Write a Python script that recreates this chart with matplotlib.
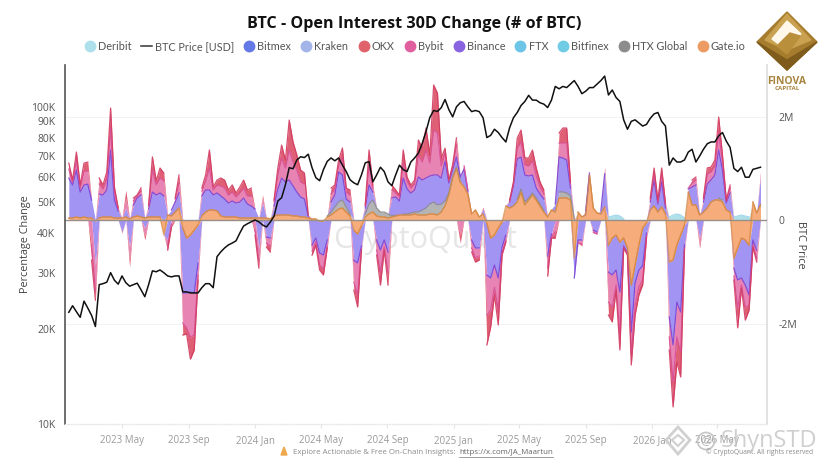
import numpy as np
import pandas as pd
import matplotlib
matplotlib.use('Agg')
import matplotlib.pyplot as plt
from matplotlib.lines import Line2D
from matplotlib.patches import Polygon, Circle

plt.rcParams['font.family'] = ['Open Sans', 'DejaVu Sans']

# weekly samples
weeks = pd.date_range('2023-01-23', periods=183, freq='7D')

# BTC price in thousands of USD
price = [22.5, 23.6, 22.6, 21.7, 24.4, 23.2, 22, 20.3, 27.5, 27.7,
         28, 30, 28.4, 27.6, 29.3, 27.9, 27.2, 27.5, 27.8, 26.5,
         25.2, 27.5, 30.4, 30.2, 30.6, 30, 29.3, 29.1, 29.3, 29.3,
         26.1, 26.1, 25.9, 25.9, 25.9, 26.9, 27.7, 27.7, 26.9, 33.7,
         34.9, 35.9, 36.7, 37.2, 37.8, 40, 42.1, 42.8, 43.4, 44,
         43.4, 42.4, 41.8, 43.3, 45.2, 50.5, 51.7, 56.8, 64.3, 63.8,
         68, 69.6, 69.2, 70.9, 64.3, 59.8, 58.5, 63.4, 67.3, 69,
         67.6, 69, 65.5, 62.5, 58.9, 57.6, 56.8, 61, 66.6, 67.2,
         58, 61, 64.5, 62.5, 58, 56.4, 61, 65.5, 63.4, 62.5,
         67, 69, 71.5, 76.7, 83.7, 92.6, 97.4, 96.7, 99.4, 105.5,
         98, 93, 100, 103, 104, 100, 96.6, 97.4, 96.6, 92.4,
         80, 81.3, 85, 83, 80, 77.5, 86, 92.4, 96, 101,
         104, 108.7, 105, 105, 103, 102, 99.5, 105, 116, 114,
         116, 115, 118, 121, 116, 110, 112, 115, 115, 118,
         121, 125, 109, 113, 107, 104, 91, 85, 90, 91,
         89, 87, 88, 92, 95, 96, 90, 87, 65.5, 69,
         67, 67, 68, 72, 73.5, 67, 70, 73.5, 76.5, 77.5,
         77.5, 81, 83, 78, 74.5, 64, 62.5, 64.5, 60, 60,
         63.5, 64, 64.5]

# 30D open interest change per exchange, in units of 2K BTC
gate = [19, 19, 29, 19, 29, 19, 19, -10, 19, 29,
        29, 29, 19, 19, 19, 29, 10, 29, 39, 29,
        19, 29, 29, 29, 29, -145, 48, 39, 77, 116,
        -77, -174, -145, -97, -48, 39, 77, 97, 97, 87,
        39, 29, 29, 29, 29, 19, 19, 19, 19, 19,
        19, 19, 19, 10, 39, 48, 48, 48, 48, 39,
        39, 29, 29, 19, 10, 10, -10, -10, 29, 48,
        77, 106, 116, 77, 39, -97, -135, -58, 29, 58,
        77, 39, 29, 29, 19, 29, 39, 48, 48, 48,
        48, 58, 48, 48, 48, 58, 58, 48, 77, 135,
        242, 406, 502, 367, 319, 251, 58, 97, 29, 58,
        -29, -174, -145, -77, -19, 135, 116, 135, 174, 270,
        145, 193, 242, 193, 135, 77, 29, 97, 77, 213,
        213, 213, 193, -367, 77, 29, 48, 435, 116, 68,
        58, 126, -242, -174, -145, -213, -174, -270, -628, -435,
        -242, -77, -29, 97, 135, 77, 126, 58, -406, -386,
        -242, -145, -48, 270, 145, 145, 48, 77, 116, 174,
        193, 193, 174, 97, 77, -367, -270, -174, -193, -242,
        174, 68, 145]
htx = [0, 0, 0, 0, 0, 0, 0, 0, 0, 0,
       0, 0, 0, 0, 0, 0, 0, 0, 0, 0,
       0, 0, 0, 0, 0, 0, 0, 0, 0, 0,
       0, 0, 0, 0, 0, 0, 0, 0, 0, 0,
       0, 0, 0, 0, 0, 0, 0, 0, 0, 0,
       0, 0, 0, 0, 0, 0, 0, 0, 0, 0,
       0, 0, 0, 0, 0, 0, 0, 0, 10, 29,
       48, 68, 77, 48, 19, 0, 0, 0, 29, 97,
       116, 77, 48, 48, 39, 10, 10, 0, 10, 10,
       19, 19, 29, 48, 68, 97, 116, 97, 77, 48,
       19, 10, 10, 10, 0, 0, 0, 0, 0, 0,
       0, 0, 0, 0, 0, 10, 0, 0, 29, 29,
       29, 19, 19, 19, 19, 10, 0, 10, 0, 58,
       58, 48, 39, 10, 0, 0, 0, 0, 0, 0,
       0, 0, 0, 0, 0, 0, 0, 0, 0, 0,
       0, 0, 0, 0, 0, 0, 0, 0, 0, 0,
       0, 0, 0, 0, 0, 0, 0, 0, 0, 0,
       0, 19, 19, 0, 0, 0, 0, 0, 0, 0,
       0, 0, 0]
binance = [386, 319, 454, 251, 309, 328, 174, -425, 232, 213,
           261, 647, 174, 68, -116, 87, -261, 116, 174, 213,
           -77, 77, 242, 213, 232, 232, -193, 58, 97, 145,
           -628, -531, -551, -609, -367, 193, 213, 193, 145, 174,
           193, 174, 135, 155, 135, 155, 193, 135, 116, 87,
           -270, 145, -164, -174, 97, 251, 357, 319, 338, 290,
           232, 193, 174, 19, -242, -174, -309, -328, -193, 97,
           116, 290, 242, 77, 116, -290, -280, -193, 58, 184,
           77, -193, -290, -193, -309, 174, 174, 135, 348, 242,
           193, 213, 338, 290, 290, 270, 261, 290, 251, 386,
           97, 68, 97, 39, 174, 29, -193, -270, -270, 48,
           -502, -386, -290, -483, -242, -145, 58, 193, 386, 309,
           261, 213, 174, 97, 97, 116, -348, -135, 77, 338,
           328, 319, 77, -193, -193, -193, 39, 19, -97, -116,
           29, 319, -261, -357, -338, -483, -77, -48, -454, -174,
           -242, -367, -97, 77, 251, 77, 242, 58, -531, -821,
           -551, -744, -193, 29, 174, 193, -174, 97, 232, 213,
           242, 464, 290, 68, 184, -97, -309, -386, -435, -483,
           -193, -290, 270]
bybit = [87, 29, 97, 39, 135, 126, -242, -242, 97, 58,
         106, 213, 68, 19, 0, 97, -116, 39, 19, 39,
         -77, 29, 213, 97, 145, 145, -58, -39, 29, 97,
         -290, -338, -435, -406, -116, 48, 87, 213, 48, 77,
         97, 106, 77, 87, 58, 87, 97, 77, 97, -97,
         -116, 48, -58, -77, 39, 135, 193, 135, 290, 232,
         213, 145, 145, 0, -58, -39, -116, -135, -58, 77,
         58, 68, 164, 68, 68, -213, -309, -29, 19, 193,
         39, -97, -213, -68, -193, 77, 39, 39, 145, 77,
         48, 58, 213, 174, 270, 126, 435, 406, 116, 77,
         19, 29, 116, -145, 29, 10, -77, -97, -77, 10,
         -386, -309, -213, -309, -58, -48, 10, 29, 106, 145,
         97, 97, 135, 116, 68, 48, -116, -29, -116, 135,
         145, 164, 39, 0, -29, -39, 10, 0, -19, -19,
         0, 39, -290, -309, -145, -415, -10, -10, -213, -213,
         -164, -135, -29, 19, 58, 19, 77, 29, -193, -357,
         -338, -386, -29, 10, 39, 48, -58, 29, 97, 77,
         87, 164, 87, 19, 48, -77, -270, -68, -213, -97,
         -48, -77, 29]
okx = [58, 19, 77, 29, 77, 87, -145, -97, 58, 39,
       68, 193, 58, 10, -10, 77, -77, 29, 10, 29,
       -39, 10, 126, 39, 97, 77, -39, -29, 10, 77,
       -116, -58, -213, -145, -48, 29, 58, 174, 29, 48,
       77, 77, 48, 68, 39, 58, 77, 58, 77, -48,
       -77, 29, -39, -58, 19, 68, 126, 77, 290, 193,
       145, 116, 106, 10, -39, -29, -48, -58, -19, 58,
       39, 48, 97, 39, 48, -77, -116, -10, 10, 145,
       29, -48, -126, -29, -126, 48, 29, 19, 126, 39,
       29, 39, 145, 135, 213, 77, 435, 386, 77, 48,
       10, 19, 68, -77, 10, 0, -39, -39, -39, 10,
       -290, -164, -77, -145, -19, -19, 10, 10, 97, 116,
       68, 77, 106, 77, 48, 39, -77, -10, -58, 97,
       145, 145, 19, 0, 0, -19, 0, 0, -10, 0,
       0, 29, -126, -145, -48, -145, -10, -10, -106, -97,
       -77, -48, -19, 19, 58, 19, 58, 19, -126, -242,
       -242, -242, -19, 0, 29, 29, -39, 10, 58, 48,
       58, 155, 58, 10, 29, -39, -193, -29, -126, -48,
       -19, -39, 19]
deribit = [0, 0, 0, 0, 0, 0, 0, 0, 0, 0,
           0, 0, 0, 0, 0, 0, 0, 0, 0, 0,
           0, 0, 0, 0, 0, 0, 0, 0, 0, 0,
           0, 0, 0, 0, 0, 0, 0, 0, 0, 0,
           0, 0, 0, 0, 0, 0, 0, 0, 0, 0,
           0, 0, 0, 0, 0, 0, 0, 0, 0, 0,
           0, 0, 0, 0, 0, 0, 0, 0, 0, 0,
           0, 0, 0, 0, 0, 0, 0, 0, 0, 0,
           0, 0, 0, 0, 0, 0, 0, 0, 0, 0,
           0, 0, 0, 0, 0, 0, 0, 0, 0, 0,
           0, 0, 0, 0, 0, 0, 0, 0, 0, 0,
           0, 0, 0, 0, 0, 0, 0, 0, 0, 0,
           0, 0, 0, 0, 0, 0, 0, 0, 0, 0,
           0, 0, 0, 0, 0, 0, 0, 0, 0, 0,
           0, 0, 29, 39, 48, 39, 10, 0, 0, 0,
           0, 0, 0, 0, 0, 0, 0, 0, 29, 48,
           58, 48, 19, 0, 0, 0, 0, 0, 0, 0,
           0, 0, 0, 0, 0, 29, 39, 48, 39, 29,
           0, 0, 0]

exchanges = [gate, htx, binance, bybit, okx, deribit]
fill_colors = ['#f6ad7b', '#b4b4b4', '#a294f2', '#e884b4', '#df5f74', '#aee0ec']
edge_colors = ['#d98a45', '#8c8c8c', '#7a45d6', '#d9509a', '#d23c62', '#9ad4e6']

left_ticks = [10, 20, 30, 40, 50, 60, 70, 80, 90, 100]
left_labels = ['10K', '20K', '30K', '40K', '50K', '60K', '70K', '80K', '90K', '100K']
month_ticks = ['2023-05-01', '2023-09-01', '2024-01-01', '2024-05-01', '2024-09-01',
               '2025-01-01', '2025-05-01', '2025-09-01', '2026-01-01', '2026-05-01']
month_labels = ['2023 May', '2023 Sep', '2024 Jan', '2024 May', '2024 Sep',
                '2025 Jan', '2025 May', '2025 Sep', '2026 Jan', '2026 May']

legend_items = [('Deribit', '#aee0ec'), ('BTC Price [USD]', None), ('Bitmex', '#6478e6'),
                ('Kraken', '#a3b4e8'), ('OKX', '#e0636c'), ('Bybit', '#e0609f'),
                ('Binance', '#8a63e0'), ('FTX', '#6cc5e6'), ('Bitfinex', '#70cbe4'),
                ('HTX Global', '#8c8c8c'), ('Gate.io', '#ec9c62')]

W, H = 828, 466
fig = plt.figure(figsize=(W / 100, H / 100), dpi=100)
ax = fig.add_axes([65 / W, 1 - 424 / H, 702 / W, 359 / H])
ax2 = ax.twinx()
ax.set_zorder(ax2.get_zorder() + 1)
ax.patch.set_visible(False)

# stacked areas, positive values go up and negative ones go down
values = np.array(exchanges, dtype=float) * 2
for part in (np.clip(values, 0, None), np.clip(values, None, 0)):
    base = np.zeros(len(weeks))
    for row, fc, ec in zip(part, fill_colors, edge_colors):
        top = base + row
        ax2.fill_between(weeks, base, top, color=fc, lw=0, zorder=2)
        shown = np.where(row != 0, top, np.nan)
        ax2.plot(weeks, shown, color=ec, lw=0.9, zorder=3, alpha=0.9)
        base = top
ax2.plot(weeks, values[0], color=edge_colors[0], lw=1.0, alpha=0.7, zorder=4)
ax2.axhline(0, color='#9a8f88', lw=1.0, zorder=4)

ax.plot(weeks, price, color='#111111', lw=1.1, zorder=5)

ax.set_yscale('log')
ax.set_ylim(10, 135.5)
ax.set_yticks(left_ticks)
ax.set_yticklabels(left_labels)
ax.minorticks_off()
ax.tick_params(axis='y', length=0, labelsize=7.5, labelcolor='#555555', pad=7)
ax.set_ylabel('Percentage Change', fontsize=7.8, color='#444444')
ax.yaxis.set_label_coords(-0.048, 0.5)

ax2.set_ylim(-3942, 2996)
ax2.set_yticks([-2000, 0, 2000])
ax2.set_yticklabels(['-2M', '0', '2M'])
ax2.tick_params(axis='y', length=0, labelsize=7.5, labelcolor='#555555', pad=8)
ax2.set_ylabel('BTC Price', fontsize=7.8, color='#444444', rotation=270)
ax2.yaxis.set_label_coords(1.056, 0.5)
for level in (-2000, 2000):
    ax2.axhline(level, color='#f2f2f2', lw=0.7, zorder=1)

ax.set_xlim(weeks[0] - pd.Timedelta(days=7), weeks[0] + pd.Timedelta(days=1286))
ax.set_xticks(pd.to_datetime(month_ticks))
ax.set_xticklabels(month_labels)
ax.tick_params(axis='x', length=3, color='#e4e4e4', labelsize=7, labelcolor='#9a9a9a', pad=5)
ax2.tick_params(axis='x', length=0)

for a in (ax, ax2):
    a.spines['top'].set_visible(False)
    a.spines['left'].set_visible(False)
    a.spines['right'].set_visible(False)
    a.spines['bottom'].set_color('#e8e8e8')
    a.spines['bottom'].set_linestyle(':')
ax.spines['left'].set_visible(True)
ax.spines['left'].set_color('#555555')
ax.spines['left'].set_linewidth(1.2)
ax2.spines['right'].set_visible(True)
ax2.spines['right'].set_color('#dddddd')
ax2.spines['right'].set_linewidth(1.2)

fig.text(414 / W, 1 - 24 / H, 'BTC - Open Interest 30D Change (# of BTC)', ha='center', va='center',
         fontsize=11.6, fontweight='bold', color='#111111')
fig.text(425 / W, 1 - 240 / H, 'CryptoQuant', fontsize=22, color='#e6e6e6', ha='center', va='center', zorder=-1)

handles = []
for name, color in legend_items:
    if color is None:
        handles.append(Line2D([], [], color='#333333', lw=1.1, label=name))
    else:
        handles.append(Line2D([], [], color=color, marker='o', ms=7.5, lw=0, label=name))
fig.legend(handles=handles, loc='center', bbox_to_anchor=(415 / W, 1 - 46.5 / H), ncol=11, frameon=False,
           prop={'family': 'Lato', 'size': 7.8}, labelcolor='#555555',
           columnspacing=0.9, handletextpad=0.25, handlelength=1.0)

# overlay in picture pixels for the logo and the footer
deco = fig.add_axes([0, 0, 1, 1], zorder=10)
deco.set_xlim(0, W)
deco.set_ylim(H, 0)
deco.axis('off')

# gold logo
deco.add_patch(Polygon([(787, 12), (817, 42), (787, 70), (757, 42)], color='#a67c2e'))
deco.add_patch(Polygon([(787, 14), (811, 40), (787, 50), (765, 40)], color='#c9a150'))
deco.add_patch(Polygon([(787, 21), (801, 34), (780, 45), (772, 39)], color='#fff8ea'))
deco.add_patch(Polygon([(790, 33), (800, 36), (787, 54), (777, 46)], color='#b98f3c'))
deco.add_patch(Polygon([(757, 42), (787, 70), (817, 42), (787, 60)], color='#7f5c1c'))
deco.text(787, 81, 'FINOVA', fontsize=7.5, fontweight='bold', color='#a8853f', ha='center', va='center')
deco.text(787, 88, 'CAPITAL', fontsize=4.5, fontweight='bold', color='#a8853f', ha='center', va='center')

# footer
deco.add_patch(Polygon([(281, 455), (284, 447), (287, 455)], color='#eda94d'))
deco.text(293, 452, 'Explore Actionable & Free On-Chain Insights: ', fontsize=5.7, color='#8a8a8a', va='center')
deco.text(459, 452, 'https://x.com/JA_Maartun', fontsize=5.7, color='#666666', va='center')
deco.plot([459, 553], [456.5, 456.5], color='#777777', lw=0.5)
deco.text(706, 452, '© CryptoQuant. All rights reserved', fontsize=4.8, color='#8a8a8a', va='center')

# reposter watermark
deco.add_patch(Polygon([(678, 427), (690, 440), (678, 454), (666, 440)], fill=False, ec='#d0d0d0', lw=2))
deco.add_patch(Polygon([(678, 435), (684, 440), (678, 446), (672, 440)], fill=False, ec='#d0d0d0', lw=1.5))
deco.add_patch(Circle((706, 441), 8.5, fill=False, ec='#c8c8c8', lw=1.3))
deco.text(706, 441, '@', fontsize=9, color='#b8b8b8', ha='center', va='center')
deco.text(721, 441, 'ShynSTD', fontsize=17, color='#c4c4c4', va='center', alpha=0.8)

fig.savefig('out.png', dpi=100)
